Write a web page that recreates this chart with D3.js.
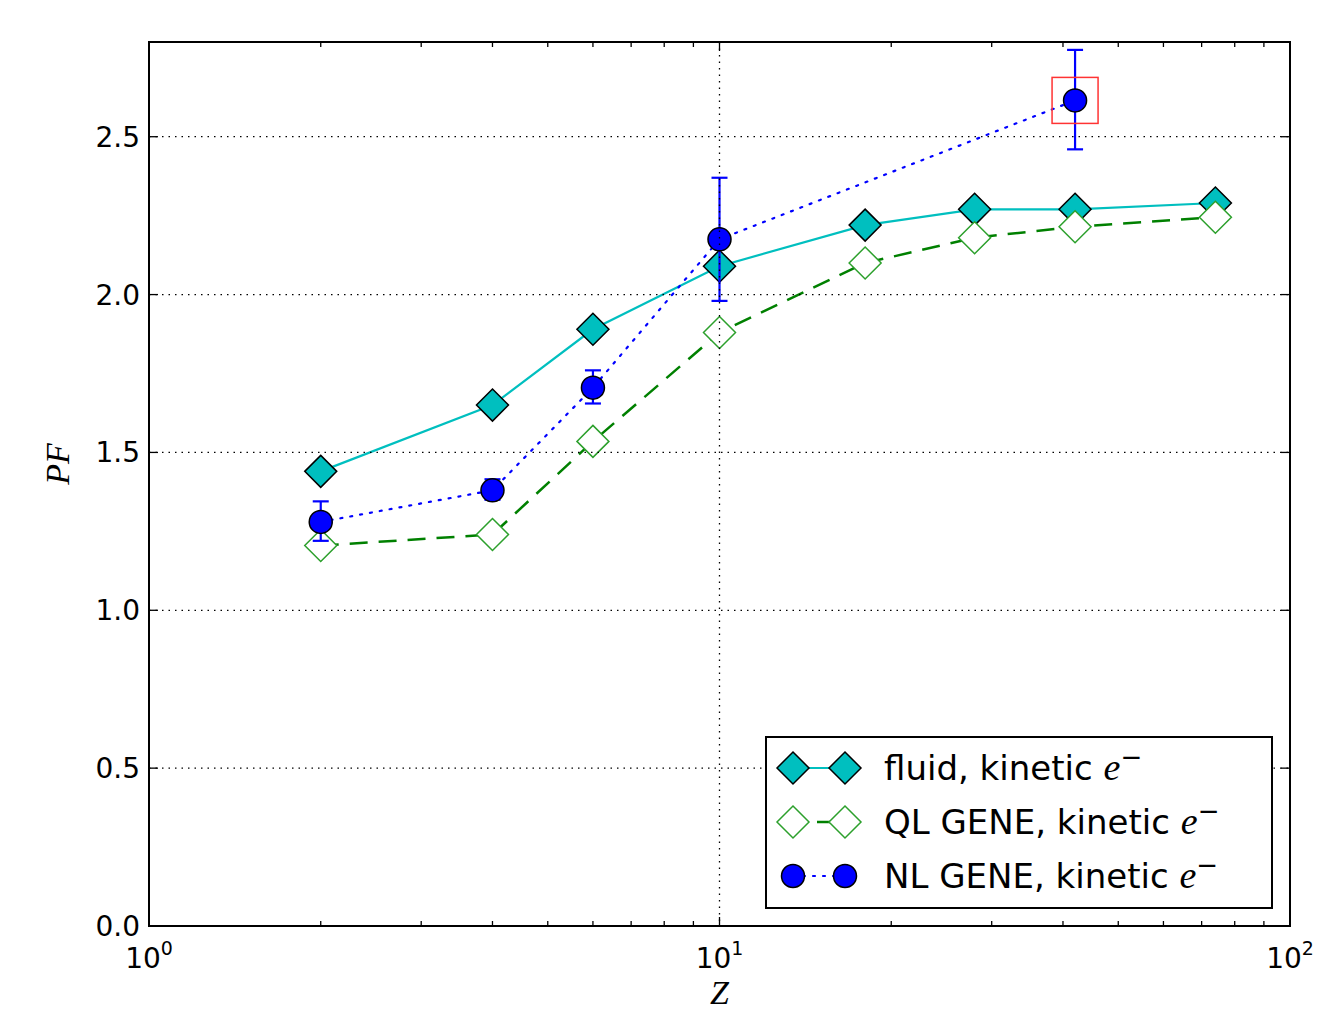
<!DOCTYPE html>
<html>
<head>
<meta charset="utf-8">
<script src="https://cdn.jsdelivr.net/npm/d3@7"></script>
<style>
  body { margin: 0; background: #fff; }
  text { font-family: "DejaVu Sans", sans-serif; }
</style>
</head>
<body>
<svg id="chart"></svg>
<script>
// data
var zFluid = [2, 4, 6, 10, 18, 28, 42, 74]
var pfFluid = [1.44, 1.65, 1.89, 2.09, 2.22, 2.27, 2.27, 2.29]
var zQL = [2, 4, 6, 10, 18, 28, 42, 74]
var pfQL = [1.205, 1.24, 1.535, 1.88, 2.10, 2.18, 2.215, 2.245]
var zNL = [2, 4, 6, 10, 42]
var pfNL = [1.28, 1.38, 1.705, 2.175, 2.615]
var errLo = [1.22, 1.35, 1.655, 1.98, 2.46]
var errHi = [1.345, 1.415, 1.76, 2.37, 2.775]
var yTicks = [0.0, 0.5, 1.0, 1.5, 2.0, 2.5]
var xTicks = [1, 10, 100]
var legendNames = ["fluid, kinetic ", "QL GENE, kinetic ", "NL GENE, kinetic "]
var highlightZ = 42, highlightPF = 2.615

var screen = {width: 1334, height: 1017}
var margins = {top: 42, right: 44, bottom: 91, left: 149}
var width = screen.width - margins.left - margins.right
var height = screen.height - margins.top - margins.bottom

var svg = d3.select("#chart")
    .attr("width", screen.width)
    .attr("height", screen.height)

var g = svg.append("g")
    .attr("id", "graph")
    .attr("transform", "translate(" + margins.left + "," + margins.top + ")")

var xScale = d3.scaleLog().domain([1, 100]).range([0, width])
var yScale = d3.scaleLinear().domain([0, 2.8]).range([height, 0])

var cyan = "#00bfbf", green = "#008000", blue = "#0000ff"

// diamond path helper
var diamond = function(s) {
    return "M0," + (-s) + "L" + s + ",0L0," + s + "L" + (-s) + ",0Z"
}

// fluid
var line = d3.line()
    .x(function(d) { return xScale(d[0]) })
    .y(function(d) { return yScale(d[1]) })

g.append("path")
    .datum(d3.zip(zFluid, pfFluid))
    .attr("d", line)
    .attr("fill", "none")
    .attr("stroke", cyan)
    .attr("stroke-width", 2.2)

g.selectAll(".fluid")
    .data(d3.zip(zFluid, pfFluid))
    .enter()
    .append("path")
    .attr("class", "fluid")
    .attr("d", diamond(16))
    .attr("transform", function(d) { return "translate(" + xScale(d[0]) + "," + yScale(d[1]) + ")" })
    .attr("fill", cyan)
    .attr("stroke", "#000")
    .attr("stroke-width", 1.5)

// QL
g.append("path")
    .datum(d3.zip(zQL, pfQL))
    .attr("d", line)
    .attr("fill", "none")
    .attr("stroke", green)
    .attr("stroke-width", 2.5)
    .attr("stroke-dasharray", "18,11")

g.selectAll(".ql")
    .data(d3.zip(zQL, pfQL))
    .enter()
    .append("path")
    .attr("class", "ql")
    .attr("d", diamond(16))
    .attr("transform", function(d) { return "translate(" + xScale(d[0]) + "," + yScale(d[1]) + ")" })
    .attr("fill", "#fff")
    .attr("stroke", "#2ca02c")
    .attr("stroke-width", 1.5)

// NL error bars
var nl = zNL.map(function(z, i) { return {z: z, pf: pfNL[i], lo: errLo[i], hi: errHi[i]} })

var eb = g.selectAll(".err")
    .data(nl)
    .enter()
    .append("g")
    .attr("class", "err")
    .attr("stroke", blue)
    .attr("stroke-width", 2.2)
eb.append("line")
    .attr("x1", function(d) { return xScale(d.z) })
    .attr("x2", function(d) { return xScale(d.z) })
    .attr("y1", function(d) { return yScale(d.lo) })
    .attr("y2", function(d) { return yScale(d.hi) })
eb.selectAll(".cap")
    .data(function(d) { return [[d.z, d.lo], [d.z, d.hi]] })
    .enter()
    .append("line")
    .attr("x1", function(d) { return xScale(d[0]) - 8 })
    .attr("x2", function(d) { return xScale(d[0]) + 8 })
    .attr("y1", function(d) { return yScale(d[1]) })
    .attr("y2", function(d) { return yScale(d[1]) })

g.append("path")
    .datum(d3.zip(zNL, pfNL))
    .attr("d", line)
    .attr("fill", "none")
    .attr("stroke", blue)
    .attr("stroke-width", 2.2)
    .attr("stroke-dasharray", "2,8")
    .attr("stroke-linecap", "round")

g.selectAll(".nl")
    .data(nl)
    .enter()
    .append("circle")
    .attr("class", "nl")
    .attr("cx", function(d) { return xScale(d.z) })
    .attr("cy", function(d) { return yScale(d.pf) })
    .attr("r", 11.5)
    .attr("fill", blue)
    .attr("stroke", "#000")
    .attr("stroke-width", 1.5)

// red box
g.append("rect")
    .attr("x", xScale(highlightZ) - 23)
    .attr("y", yScale(highlightPF) - 23)
    .attr("width", 46)
    .attr("height", 46)
    .attr("fill", "none")
    .attr("stroke", "#ff3333")
    .attr("stroke-width", 1.5)

// grid (drawn on top, like old matplotlib)
var grid = g.append("g").attr("id", "grid")
    .attr("stroke", "#000")
    .attr("stroke-width", 1.3)
    .attr("stroke-dasharray", "1.5,5")
grid.selectAll(".gy")
    .data(yTicks.slice(1))
    .enter()
    .append("line")
    .attr("x1", 0).attr("x2", width)
    .attr("y1", function(d) { return yScale(d) })
    .attr("y2", function(d) { return yScale(d) })
grid.append("line")
    .attr("x1", xScale(10)).attr("x2", xScale(10))
    .attr("y1", 0).attr("y2", height)

// ticks, inward on all four sides
var minor = []
;[1, 10].forEach(function(dec) {
    for (var k = 2; k <= 9; k++) minor.push(dec * k)
})
var ticks = g.append("g").attr("stroke", "#000").attr("stroke-width", 1.3)
var addX = function(vals, len) {
    vals.forEach(function(v) {
        ticks.append("line").attr("x1", xScale(v)).attr("x2", xScale(v)).attr("y1", height).attr("y2", height - len)
        ticks.append("line").attr("x1", xScale(v)).attr("x2", xScale(v)).attr("y1", 0).attr("y2", len)
    })
}
addX(xTicks, 9)
addX(minor, 5)
yTicks.forEach(function(v) {
    ticks.append("line").attr("x1", 0).attr("x2", 9).attr("y1", yScale(v)).attr("y2", yScale(v))
    ticks.append("line").attr("x1", width).attr("x2", width - 9).attr("y1", yScale(v)).attr("y2", yScale(v))
})

// frame
g.append("rect")
    .attr("width", width)
    .attr("height", height)
    .attr("fill", "none")
    .attr("stroke", "#000")
    .attr("stroke-width", 2)

// tick labels
g.selectAll(".ylab")
    .data(yTicks)
    .enter()
    .append("text")
    .attr("x", -9)
    .attr("y", function(d) { return yScale(d) + 10 })
    .attr("text-anchor", "end")
    .attr("font-size", 28)
    .text(function(d) { return d.toFixed(1) })

var xl = g.selectAll(".xlab")
    .data(xTicks)
    .enter()
    .append("text")
    .attr("x", function(d) { return xScale(d) })
    .attr("y", height + 42)
    .attr("text-anchor", "middle")
    .attr("font-size", 28)
xl.append("tspan").text("10")
xl.append("tspan")
    .attr("dy", -13)
    .attr("font-size", 19)
    .text(function(d) { return Math.round(Math.log10(d)) })

// axis labels
g.append("text")
    .attr("x", width / 2)
    .attr("y", height + 78)
    .attr("text-anchor", "middle")
    .style("font-family", "'Liberation Serif', serif")
    .attr("font-style", "italic")
    .attr("font-size", 34)
    .text("Z")

g.append("text")
    .attr("transform", "translate(" + (-80) + "," + (height / 2 - 20) + ") rotate(-90)")
    .attr("text-anchor", "middle")
    .style("font-family", "'Liberation Serif', serif")
    .attr("font-style", "italic")
    .attr("font-size", 34)
    .text("PF")

// legend
var lg = g.append("g").attr("transform", "translate(" + (xScale(1) + 617) + "," + (yScale(0) - 189) + ")")
lg.append("rect")
    .attr("width", 506)
    .attr("height", 171)
    .attr("fill", "#fff")
    .attr("stroke", "#000")
    .attr("stroke-width", 2)

var rows = [
    {name: legendNames[0], color: cyan, dash: null, fill: cyan, edge: "#000", shape: "d", width: 2.2},
    {name: legendNames[1], color: green, dash: "18,11", fill: "#fff", edge: "#2ca02c", shape: "d", width: 2.5},
    {name: legendNames[2], color: blue, dash: "2,8", fill: blue, edge: "#000", shape: "c", width: 2.2}
]
var lr = lg.selectAll(".lrow")
    .data(rows)
    .enter()
    .append("g")
    .attr("transform", function(d, i) { return "translate(0," + (31 + i * 54) + ")" })
lr.append("line")
    .attr("x1", 27).attr("x2", 79)
    .attr("stroke", function(d) { return d.color })
    .attr("stroke-width", function(d) { return d.width })
    .attr("stroke-dasharray", function(d) { return d.dash })
    .attr("stroke-dashoffset", function(d) { return d.shape == "d" && d.dash ? 5 : 0 })
    .attr("stroke-linecap", function(d) { return d.shape == "c" ? "round" : "butt" })
;[27, 79].forEach(function(mx) {
    lr.each(function(d) {
        var sel = d3.select(this)
        if (d.shape == "d") {
            sel.append("path").attr("d", diamond(16)).attr("transform", "translate(" + mx + ",0)")
                .attr("fill", d.fill).attr("stroke", d.edge).attr("stroke-width", 1.5)
        } else {
            sel.append("circle").attr("cx", mx).attr("r", 11.5)
                .attr("fill", d.fill).attr("stroke", d.edge).attr("stroke-width", 1.5)
        }
    })
})
var lt = lr.append("text")
    .attr("x", 118)
    .attr("y", 12)
    .attr("font-size", 34)
lt.append("tspan").text(function(d) { return d.name })
lt.append("tspan")
    .style("font-family", "'Liberation Serif', serif")
    .attr("font-style", "italic")
    .attr("font-size", 38)
    .text("e")
lt.append("tspan")
    .attr("dy", -14)
    .attr("font-size", 26)
    .text("\u2212")
</script>
</body>
</html>
